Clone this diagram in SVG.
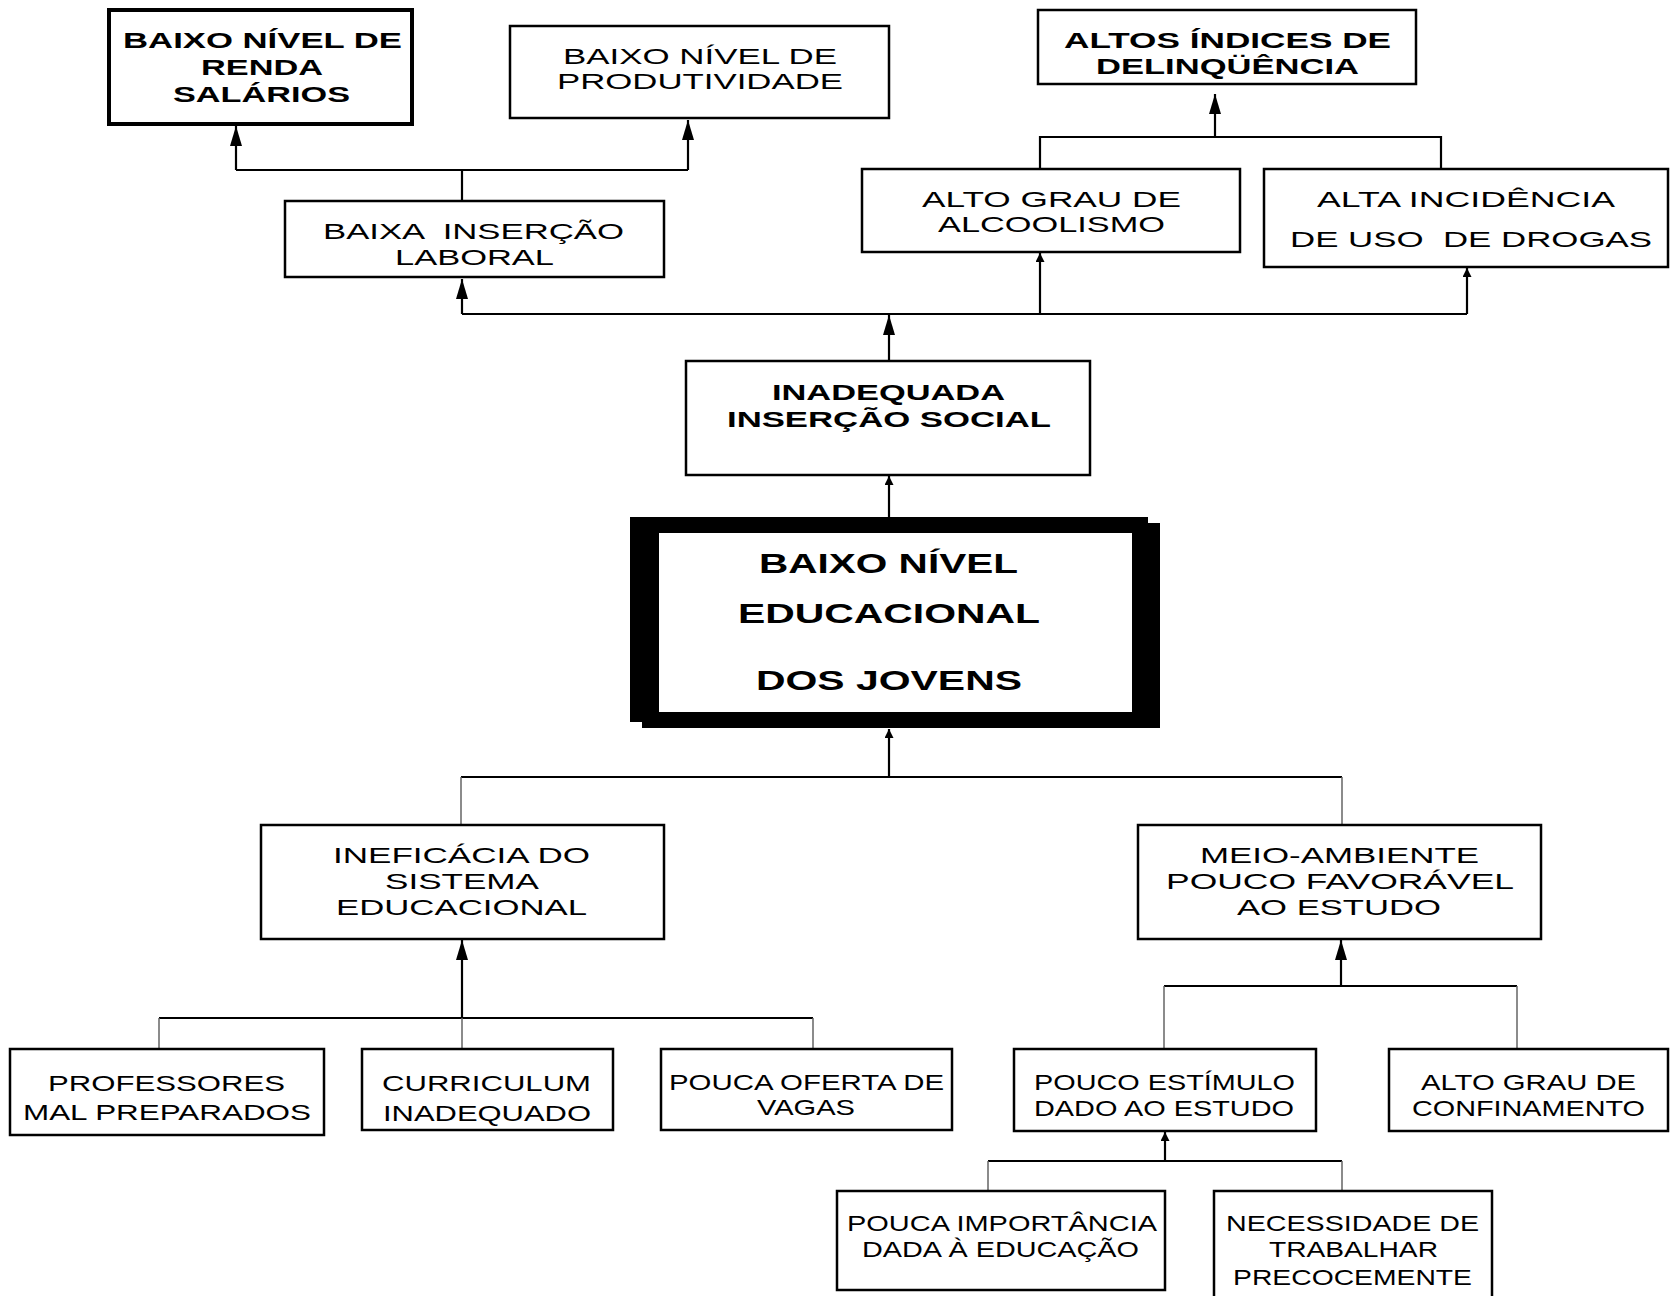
<svg xmlns="http://www.w3.org/2000/svg" width="1675" height="1296" viewBox="0 0 1675 1296">
<style>
.bx{fill:#fff;stroke:#000;stroke-width:2.5}
.bx4{fill:#fff;stroke:#000;stroke-width:4}
.t{font-family:"Liberation Sans",Arial,sans-serif;font-size:22px;fill:#000}
.b{font-family:"Liberation Sans",Arial,sans-serif;font-size:22px;font-weight:bold;fill:#000}
.big{font-family:"Liberation Sans",Arial,sans-serif;font-size:28px;font-weight:bold;fill:#000}
.pre{white-space:pre}
.ln{fill:none;stroke:#000;stroke-width:2.2}
.gl{fill:none;stroke:#666;stroke-width:1.5}
.ab{fill:none;stroke:#000;stroke-width:2.2;marker-end:url(#big)}
.as{fill:none;stroke:#000;stroke-width:2.2;marker-end:url(#sm)}
</style>
<defs>
<marker id="big" markerUnits="userSpaceOnUse" markerWidth="20" markerHeight="12" refX="20" refY="6" orient="auto"><path d="M0,0 L20,6 L0,12 z" fill="#000"/></marker>
<marker id="sm" markerUnits="userSpaceOnUse" markerWidth="9" markerHeight="9" refX="9" refY="4.5" orient="auto"><path d="M0,0 L9,4.5 L0,9 z" fill="#000"/></marker>
</defs>
<rect width="1675" height="1296" fill="#fff"/>
<g id="connectors">
<path class="ln" d="M462,201 V170 M236,170 H688"/>
<path class="ab" d="M236,170 V126"/>
<path class="ab" d="M688,170 V120"/>
<path class="ln" d="M462,314 H1467"/>
<path class="ab" d="M462,314 V279"/>
<path class="as" d="M1040,314 V253"/>
<path class="as" d="M1467,314 V268"/>
<path class="ab" d="M889,361 V315"/>
<path class="as" d="M889,517 V476"/>
<path class="ln" d="M1040,169 V137 H1441 V169"/>
<path class="ab" d="M1215,137 V94"/>
<path class="as" d="M889,777 V729"/>
<path class="ln" d="M461,777 H1342"/>
<path class="gl" d="M461,777 V825 M1342,777 V825"/>
<path class="ab" d="M462,1018 V940"/>
<path class="ln" d="M159,1018 H813"/>
<path class="gl" d="M159,1018 V1049 M462,1018 V1049 M813,1018 V1049"/>
<path class="ab" d="M1341,986 V940"/>
<path class="ln" d="M1164,986 H1517"/>
<path class="gl" d="M1164,986 V1049 M1517,986 V1049"/>
<path class="as" d="M1165,1161 V1132"/>
<path class="ln" d="M988,1161 H1342"/>
<path class="gl" d="M988,1161 V1191 M1342,1161 V1191"/>
</g>
<g id="renda">
<rect class="bx4" x="109" y="10" width="303" height="114"/>
<text class="b" x="123" y="48" textLength="279" lengthAdjust="spacingAndGlyphs">BAIXO NÍVEL DE</text>
<text class="b" x="201" y="75" textLength="122" lengthAdjust="spacingAndGlyphs">RENDA</text>
<text class="b" x="173" y="102" textLength="177" lengthAdjust="spacingAndGlyphs">SALÁRIOS</text>
</g>
<g id="produtividade">
<rect class="bx" x="510" y="26" width="379" height="92"/>
<text class="t" x="563" y="64" textLength="274" lengthAdjust="spacingAndGlyphs">BAIXO NÍVEL DE</text>
<text class="t" x="557" y="89" textLength="286" lengthAdjust="spacingAndGlyphs">PRODUTIVIDADE</text>
</g>
<g id="delinquencia">
<rect class="bx" x="1038" y="10" width="378" height="74"/>
<text class="b" x="1064" y="48" textLength="327" lengthAdjust="spacingAndGlyphs">ALTOS ÍNDICES DE</text>
<text class="b" x="1096" y="74" textLength="263" lengthAdjust="spacingAndGlyphs">DELINQÜÊNCIA</text>
</g>
<g id="insercao-laboral">
<rect class="bx" x="285" y="201" width="379" height="76"/>
<text class="t pre" x="323" y="239" textLength="301" lengthAdjust="spacingAndGlyphs" xml:space="preserve">BAIXA  INSERÇÃO</text>
<text class="t" x="395" y="265" textLength="159" lengthAdjust="spacingAndGlyphs">LABORAL</text>
</g>
<g id="alcoolismo">
<rect class="bx" x="862" y="169" width="378" height="83"/>
<text class="t" x="922" y="207" textLength="259" lengthAdjust="spacingAndGlyphs">ALTO GRAU DE</text>
<text class="t" x="938" y="232" textLength="227" lengthAdjust="spacingAndGlyphs">ALCOOLISMO</text>
</g>
<g id="drogas">
<rect class="bx" x="1264" y="169" width="404" height="98"/>
<text class="t" x="1317" y="207" textLength="298" lengthAdjust="spacingAndGlyphs">ALTA INCIDÊNCIA</text>
<text class="t pre" x="1290" y="247" textLength="362" lengthAdjust="spacingAndGlyphs" xml:space="preserve">DE USO  DE DROGAS</text>
</g>
<g id="insercao-social">
<rect class="bx" x="686" y="361" width="404" height="114"/>
<text class="b" x="772" y="400" textLength="233" lengthAdjust="spacingAndGlyphs">INADEQUADA</text>
<text class="b" x="727" y="427" textLength="324" lengthAdjust="spacingAndGlyphs">INSERÇÃO SOCIAL</text>
</g>
<g id="baixo-nivel-educacional">
<rect x="642" y="523" width="518" height="205" fill="#000"/>
<rect x="630" y="517" width="518" height="205" fill="#000"/>
<rect x="659" y="533" width="473" height="179" fill="#fff"/>
<text class="big" x="759" y="573" textLength="259" lengthAdjust="spacingAndGlyphs">BAIXO NÍVEL</text>
<text class="big" x="738" y="623" textLength="302" lengthAdjust="spacingAndGlyphs">EDUCACIONAL</text>
<text class="big" x="756" y="690" textLength="266" lengthAdjust="spacingAndGlyphs">DOS JOVENS</text>
</g>
<g id="ineficacia">
<rect class="bx" x="261" y="825" width="403" height="114"/>
<text class="t" x="333" y="863" textLength="257" lengthAdjust="spacingAndGlyphs">INEFICÁCIA DO</text>
<text class="t" x="385" y="889" textLength="154" lengthAdjust="spacingAndGlyphs">SISTEMA</text>
<text class="t" x="336" y="915" textLength="251" lengthAdjust="spacingAndGlyphs">EDUCACIONAL</text>
</g>
<g id="meio-ambiente">
<rect class="bx" x="1138" y="825" width="403" height="114"/>
<text class="t" x="1200" y="863" textLength="279" lengthAdjust="spacingAndGlyphs">MEIO-AMBIENTE</text>
<text class="t" x="1166" y="889" textLength="348" lengthAdjust="spacingAndGlyphs">POUCO FAVORÁVEL</text>
<text class="t" x="1237" y="915" textLength="204" lengthAdjust="spacingAndGlyphs">AO ESTUDO</text>
</g>
<g id="professores">
<rect class="bx" x="10" y="1049" width="314" height="86"/>
<text class="t" x="48" y="1091" textLength="237" lengthAdjust="spacingAndGlyphs">PROFESSORES</text>
<text class="t" x="23" y="1120" textLength="288" lengthAdjust="spacingAndGlyphs">MAL PREPARADOS</text>
</g>
<g id="curriculum">
<rect class="bx" x="362" y="1049" width="251" height="81"/>
<text class="t" x="382" y="1091" textLength="209" lengthAdjust="spacingAndGlyphs">CURRICULUM</text>
<text class="t" x="383" y="1121" textLength="208" lengthAdjust="spacingAndGlyphs">INADEQUADO</text>
</g>
<g id="oferta-vagas">
<rect class="bx" x="661" y="1049" width="291" height="81"/>
<text class="t" x="669" y="1090" textLength="275" lengthAdjust="spacingAndGlyphs">POUCA OFERTA DE</text>
<text class="t" x="757" y="1115" textLength="98" lengthAdjust="spacingAndGlyphs">VAGAS</text>
</g>
<g id="estimulo">
<rect class="bx" x="1014" y="1049" width="302" height="82"/>
<text class="t" x="1034" y="1090" textLength="261" lengthAdjust="spacingAndGlyphs">POUCO ESTÍMULO</text>
<text class="t" x="1034" y="1116" textLength="260" lengthAdjust="spacingAndGlyphs">DADO AO ESTUDO</text>
</g>
<g id="confinamento">
<rect class="bx" x="1389" y="1049" width="279" height="82"/>
<text class="t" x="1421" y="1090" textLength="215" lengthAdjust="spacingAndGlyphs">ALTO GRAU DE</text>
<text class="t" x="1412" y="1116" textLength="233" lengthAdjust="spacingAndGlyphs">CONFINAMENTO</text>
</g>
<g id="importancia">
<rect class="bx" x="837" y="1191" width="328" height="99"/>
<text class="t" x="847" y="1231" textLength="310" lengthAdjust="spacingAndGlyphs">POUCA IMPORTÂNCIA</text>
<text class="t" x="862" y="1257" textLength="277" lengthAdjust="spacingAndGlyphs">DADA À EDUCAÇÃO</text>
</g>
<g id="necessidade">
<rect class="bx" x="1214" y="1191" width="278" height="120"/>
<text class="t" x="1226" y="1231" textLength="253" lengthAdjust="spacingAndGlyphs">NECESSIDADE DE</text>
<text class="t" x="1269" y="1257" textLength="169" lengthAdjust="spacingAndGlyphs">TRABALHAR</text>
<text class="t" x="1233" y="1285" textLength="239" lengthAdjust="spacingAndGlyphs">PRECOCEMENTE</text>
</g>
</svg>
